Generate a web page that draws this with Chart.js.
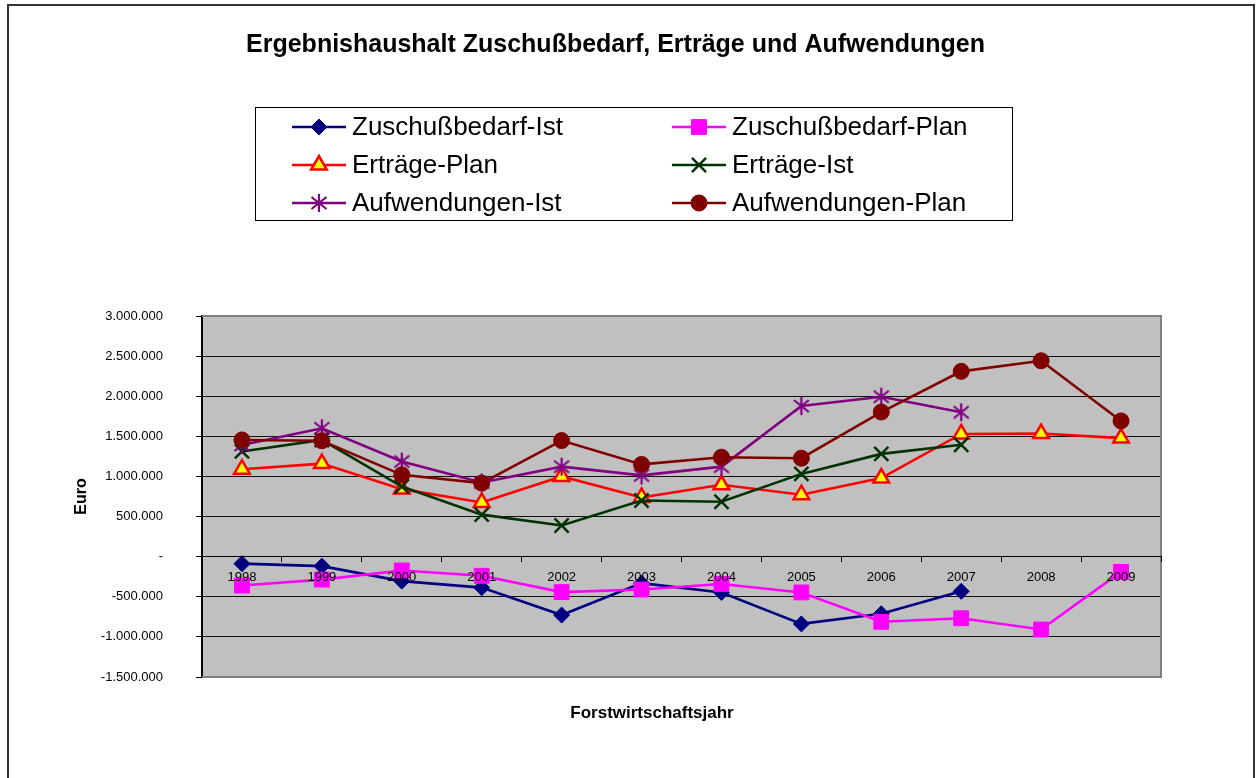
<!DOCTYPE html>
<html>
<head>
<meta charset="utf-8">
<title>Ergebnishaushalt</title>
<script src="https://cdn.jsdelivr.net/npm/chart.js@4/dist/chart.umd.min.js"></script>
<style>
  html, body { margin: 0; padding: 0; background: #fff; }
  #chart { display: block; }
</style>
</head>
<body>
<canvas id="chart" width="1256" height="778"></canvas>
<script>
// data (Euro)
const years = ['1998', '1999', '2000', '2001', '2002', '2003', '2004', '2005', '2006', '2007', '2008', '2009'];
const zuschussIst = [-87000, -118000, -305000, -386000, -728000, -330000, -447000, -838000, -712000, -432000, null, null];
const zuschussPlan = [-360000, -286000, -172000, -238000, -442000, -410000, -340000, -446000, -812000, -768000, -908000, -190000];
const ertraegePlan = [1090000, 1160000, 842000, 676000, 1000000, 738000, 896000, 772000, 980000, 1530000, 1535000, 1478000];
const ertraegeIst = [1312000, 1455000, 874000, 524000, 388000, 700000, 685000, 1032000, 1281000, 1395000, null, null];
const aufwendungenIst = [1393000, 1600000, 1186000, 924000, 1122000, 1013000, 1122000, 1878000, 1994000, 1800000, null, null];
const aufwendungenPlan = [1455000, 1445000, 1020000, 917000, 1447000, 1150000, 1240000, 1227000, 1803000, 2310000, 2442000, 1692000];
const yMin = -1500000;
const yMax = 3000000;
const yStep = 500000;

const FONT = "'Liberation Sans', Arial, sans-serif";
Chart.defaults.font.family = FONT;
Chart.defaults.color = '#000';

// 1.234.567 style, zero shown as "-"
function euro(v) {
    if (v === 0) return '-';
    const s = String(Math.abs(v)).replace(/\B(?=(\d{3})+(?!\d))/g, '.');
    return (v < 0 ? '-' : '') + s;
}

// Excel-like asterisk marker: vertical bar plus an X
function makeStar(color) {
    const c = document.createElement('canvas');
    c.width = 20; c.height = 20;
    const g = c.getContext('2d');
    g.strokeStyle = color;
    g.lineWidth = 2.2;
    g.beginPath();
    g.moveTo(10, 1); g.lineTo(10, 19);
    g.moveTo(2.5, 4); g.lineTo(17.5, 16);
    g.moveTo(17.5, 4); g.lineTo(2.5, 16);
    g.stroke();
    return c;
}

function series(label, data, color, marker) {
    return Object.assign({
        label: label,
        data: data,
        borderColor: color,
        backgroundColor: color,
        pointBackgroundColor: color,
        pointBorderColor: color,
        borderWidth: 2.6,
        pointBorderWidth: 1,
        tension: 0,
        spanGaps: false
    }, marker);
}

const datasets = [
    series('Zuschußbedarf-Ist', zuschussIst, '#000080', { pointStyle: 'rectRot', pointRadius: 8, pointHoverRadius: 8 }),
    series('Zuschußbedarf-Plan', zuschussPlan, '#ff00ff', { pointStyle: 'rect', pointRadius: 10.5, pointHoverRadius: 10.5 }),
    series('Erträge-Plan', ertraegePlan, '#ff0000', { pointStyle: 'triangle', pointRadius: 9, pointHoverRadius: 9,
        pointBackgroundColor: '#ffff00', pointBorderColor: '#ff0000', pointBorderWidth: 2.5 }),
    series('Erträge-Ist', ertraegeIst, '#003300', { pointStyle: 'crossRot', pointRadius: 10, pointHoverRadius: 10, pointBorderWidth: 2.5 }),
    series('Aufwendungen-Ist', aufwendungenIst, '#800080', { pointStyle: makeStar('#800080'), pointRadius: 10, pointHoverRadius: 10 }),
    series('Aufwendungen-Plan', aufwendungenPlan, '#800000', { pointStyle: 'circle', pointRadius: 8, pointHoverRadius: 8 })
];
// later series on top, like in Excel
datasets.forEach((d, i) => { d.order = datasets.length - i; });

const excelFrame = {
    id: 'excelFrame',
    beforeDraw(chart) {
        const { ctx, chartArea: a } = chart;
        ctx.save();
        ctx.fillStyle = '#fff';
        ctx.fillRect(0, 0, chart.width, chart.height);
        ctx.fillStyle = '#c0c0c0';
        ctx.fillRect(a.left, a.top, a.right - a.left, a.bottom - a.top);
        ctx.restore();
    },
    beforeDatasetsDraw(chart) {
        const { ctx, chartArea: a } = chart;
        ctx.save();
        ctx.strokeStyle = '#808080';
        ctx.lineWidth = 2;
        ctx.beginPath();
        ctx.moveTo(a.left, a.top);
        ctx.lineTo(a.right, a.top);
        ctx.lineTo(a.right, a.bottom);
        ctx.lineTo(a.left, a.bottom);
        ctx.stroke();
        ctx.restore();
    },
    afterDraw(chart) {
        const ctx = chart.ctx;
        ctx.save();
        // outer chart border
        ctx.strokeStyle = '#333';
        ctx.lineWidth = 2;
        ctx.strokeRect(8, 5, 1246, 790);

        // x axis title
        ctx.fillStyle = '#000';
        ctx.font = 'bold 17px ' + FONT;
        ctx.textAlign = 'center';
        ctx.textBaseline = 'middle';
        ctx.fillText('Forstwirtschaftsjahr', 652, 713);

        // legend box, two columns
        ctx.strokeStyle = '#000';
        ctx.lineWidth = 1;
        ctx.strokeRect(255.5, 107.5, 757, 113);
        const cols = [292, 672];
        const rows = [127, 165, 203];
        ctx.font = '26px ' + FONT;
        ctx.textAlign = 'left';
        chart.data.datasets.forEach((ds, i) => {
            const x = cols[i % 2];
            const y = rows[Math.floor(i / 2)];
            ctx.strokeStyle = ds.borderColor;
            ctx.lineWidth = ds.borderWidth;
            ctx.beginPath();
            ctx.moveTo(x, y);
            ctx.lineTo(x + 54, y);
            ctx.stroke();
            ctx.fillStyle = ds.pointBackgroundColor;
            ctx.strokeStyle = ds.pointBorderColor;
            ctx.lineWidth = ds.pointBorderWidth;
            Chart.helpers.drawPoint(ctx, {
                pointStyle: ds.pointStyle,
                rotation: 0,
                radius: ds.pointRadius,
                borderWidth: ds.pointBorderWidth
            }, x + 27, y);
            ctx.fillStyle = '#000';
            ctx.fillText(ds.label, x + 60, y + 1);
        });
        ctx.restore();
    }
};

new Chart(document.getElementById('chart'), {
    type: 'line',
    data: { labels: years, datasets: datasets },
    options: {
        responsive: false,
        animation: false,
        devicePixelRatio: 1,
        layout: { padding: { left: 70, right: 95, top: 0, bottom: 101 } },
        plugins: {
            legend: { display: false },
            tooltip: { enabled: false },
            title: {
                display: true,
                text: 'Ergebnishaushalt Zuschußbedarf, Erträge und Aufwendungen',
                color: '#000',
                font: { size: 25, weight: 'bold' },
                padding: { top: 30, bottom: 256 }
            }
        },
        scales: {
            x: {
                type: 'category',
                position: { y: 0 },
                offset: true,
                grid: { drawOnChartArea: false, drawTicks: true, tickLength: 5, color: '#000', offset: true, z: 1 },
                border: { color: '#000', width: 1, z: 1 },
                // year labels sit on top of the lines, as in the original
                ticks: { z: 2, font: { size: 13 }, color: '#000', padding: 8, maxRotation: 0, autoSkip: false }
            },
            y: {
                min: yMin,
                max: yMax,
                afterFit(scale) { scale.width = 132; },
                ticks: { stepSize: yStep, font: { size: 13 }, color: '#000', padding: 33, callback: v => euro(v) },
                grid: {
                    color: c => (c.tick && (c.tick.value === yMin || c.tick.value === yMax)) ? 'rgba(0,0,0,0)' : '#111',
                    tickColor: '#000',
                    tickLength: 6,
                    lineWidth: 1
                },
                border: { color: '#000', width: 2 },
                title: { display: true, text: 'Euro', color: '#000', font: { size: 16, weight: 'bold' }, padding: { top: 2, bottom: 0 } }
            }
        }
    },
    plugins: [excelFrame]
});
</script>
</body>
</html>
